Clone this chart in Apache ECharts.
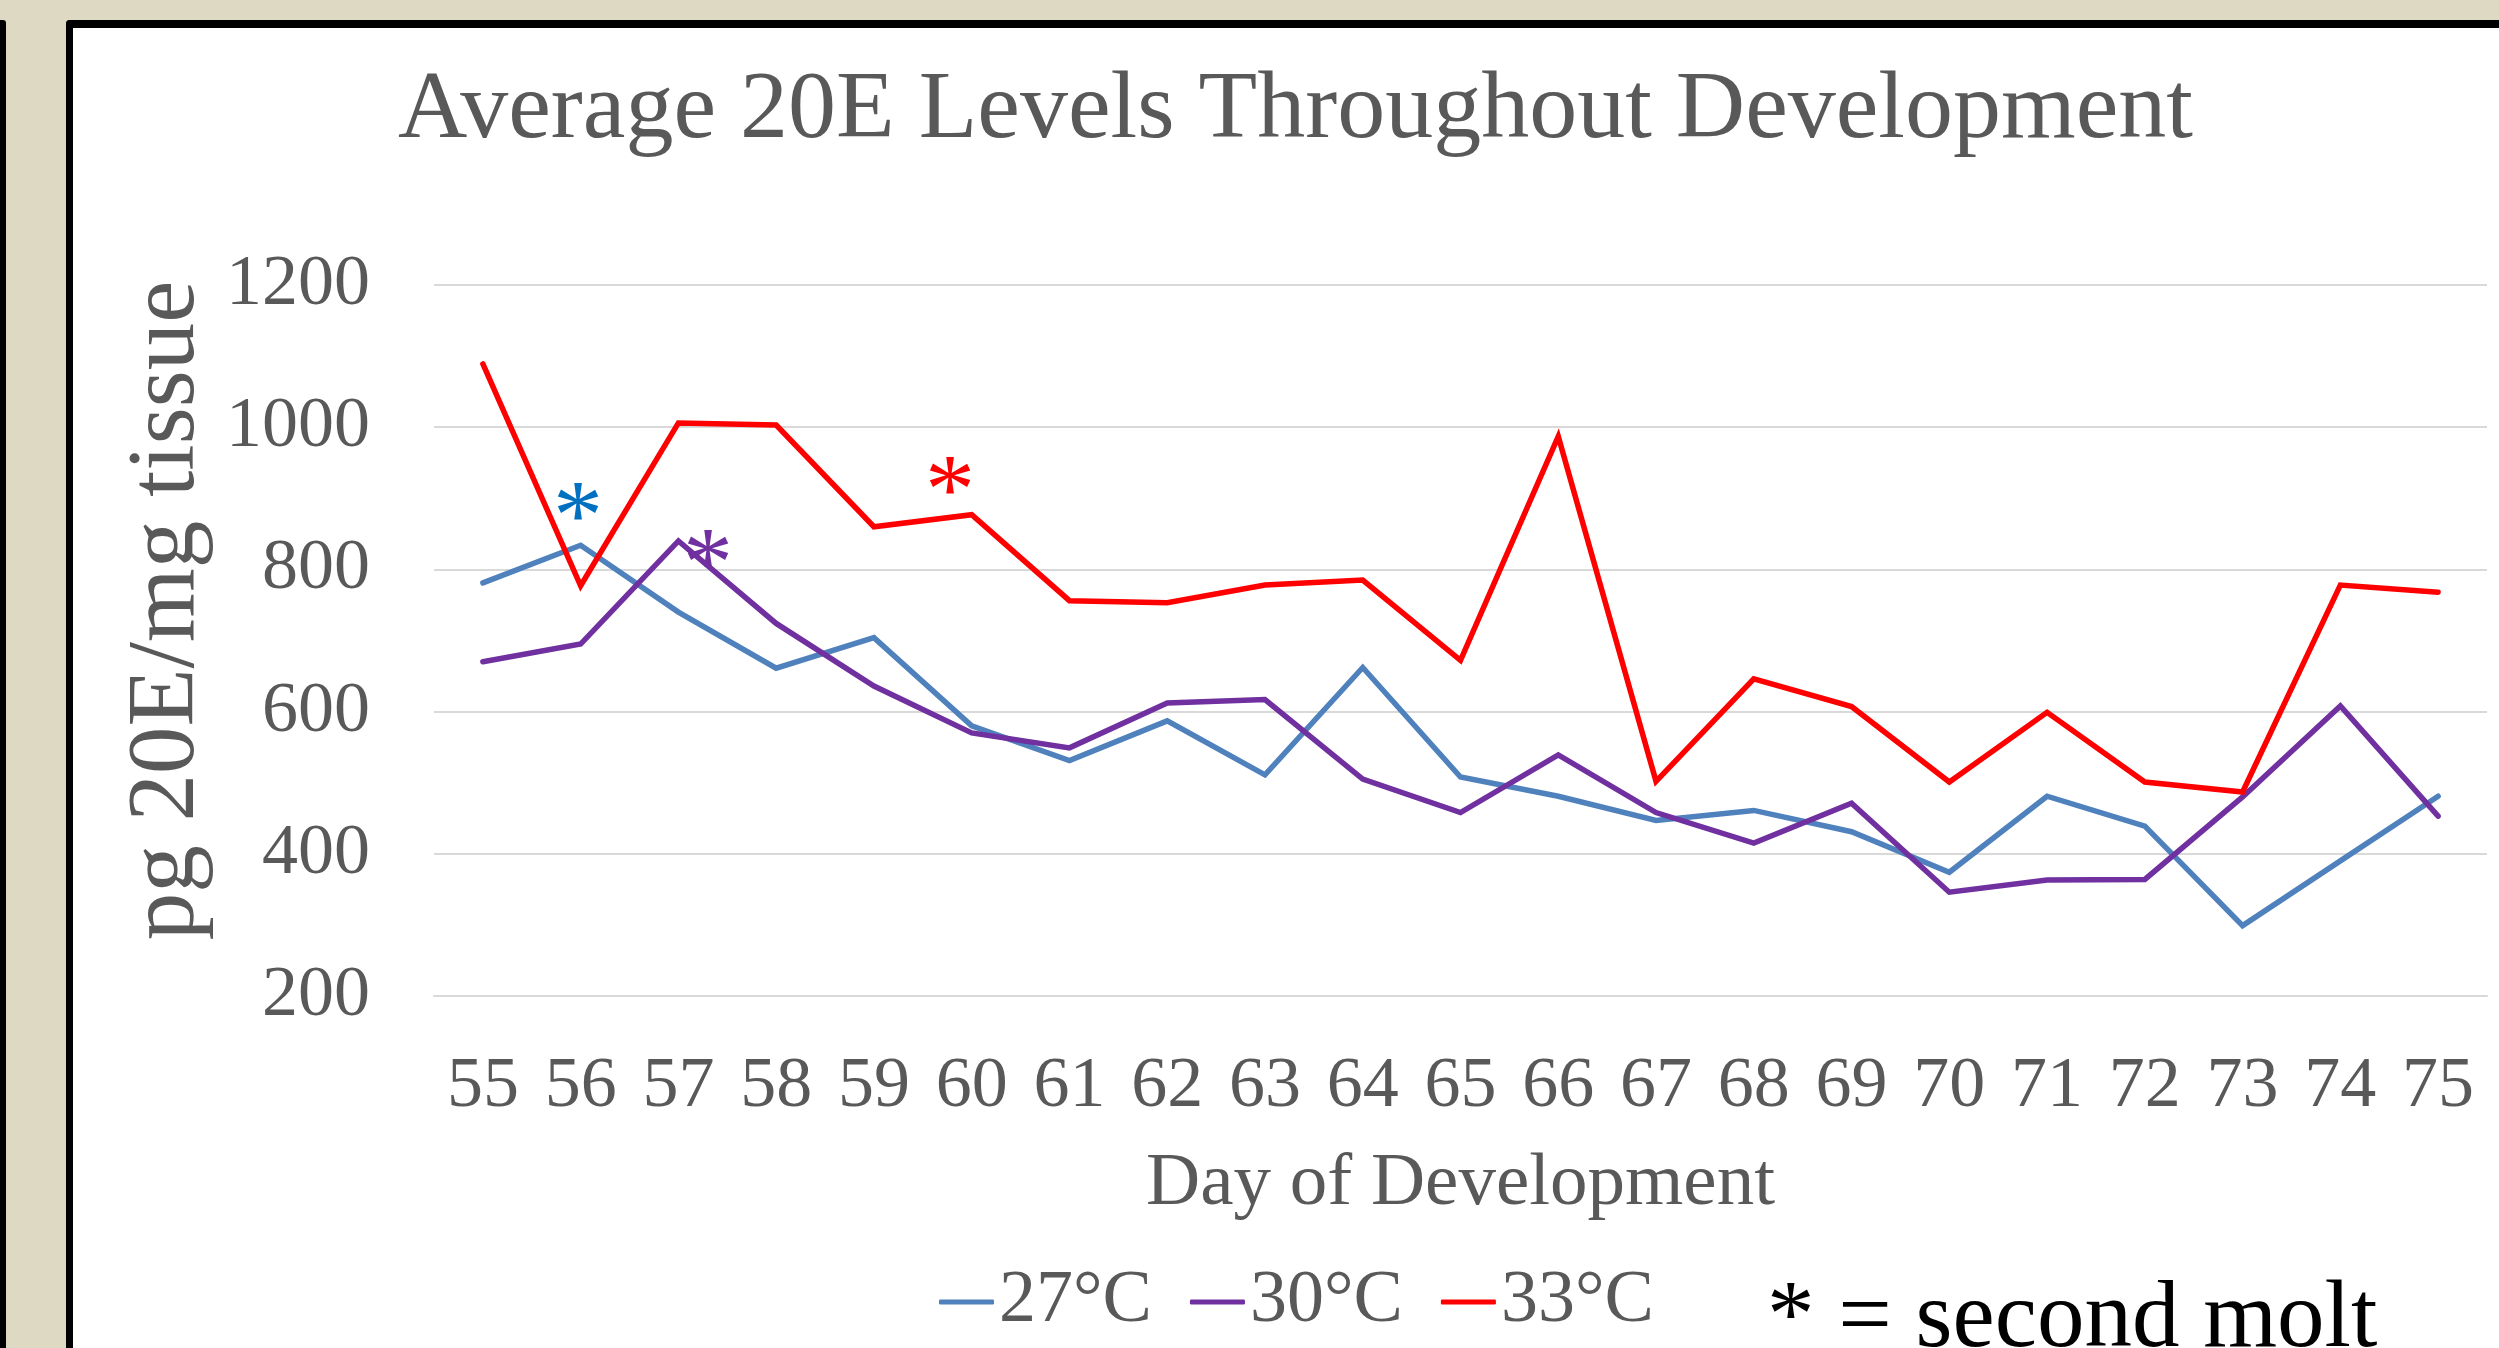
<!DOCTYPE html>
<html lang="en">
<head>
    <meta charset="UTF-8">
    <title>Average 20E Levels Throughout Development</title>
    <script src="https://cdn.jsdelivr.net/npm/echarts@6/dist/echarts.min.js"></script>
    <style>
        body { margin: 0; background: #DDD9C3; overflow: hidden; }
        #strip { position: absolute; left: 0; top: 20px; width: 6px; height: 1328px; background: #000; border-top-right-radius: 3px; }
        #frame { position: absolute; left: 66px; top: 20px; width: 2433px; height: 1328px; box-sizing: border-box;
                 border-left: 7px solid #000; border-top: 8px solid #000; border-top-left-radius: 4px; background: #fff; }
        #chart { position: absolute; left: 0; top: 0; width: 2499px; height: 1348px; }
    </style>
</head>
<body>
    <div id="strip"></div>
    <div id="frame"></div>
    <div id="chart"></div>

    <script>
        // days on the x axis
        var days = ["55", "56", "57", "58", "59", "60", "61", "62", "63", "64", "65",
                    "66", "67", "68", "69", "70", "71", "72", "73", "74", "75"]
        // pg 20E / mg tissue
        var t27 = [781, 834, 740, 661, 704, 580, 531, 587, 511, 662, 508,
                   481, 447, 461, 431, 374, 481, 439, 299, 390, 481]
        var t30 = [670, 695, 840, 724, 636, 570, 549, 612, 617, 505, 458,
                   539, 458, 415, 471, 346, 363, 364, 480, 608, 453]
        var t33 = [1089, 777, 1006, 1003, 860, 877, 756, 753, 778, 785, 672,
                   987, 502, 646, 607, 501, 599, 501, 487, 778, 768]
        var seriesNames = ["27°C", "30°C", "33°C"]
        var yTicks = [200, 1200, 200] // min, max, step

        var font = "Liberation Serif"
        var grey = "#595959"
        var colors = ["#4F81BD", "#7030A0", "#FF0000"]

        var chart = echarts.init(document.getElementById("chart"))

        function lineSeries(name, data, color) {
            return {
                name: name,
                type: "line",
                data: data,
                symbol: "none",
                color: color,
                lineStyle: { width: 5.5, color: color, cap: "round", join: "miter" },
                animation: false
            }
        }

        function note(text, x, y, color, size, align) {
            return {
                type: "text",
                x: x,
                y: y,
                style: {
                    text: text,
                    font: size + "px '" + font + "'",
                    fill: color,
                    textAlign: align,
                    textVerticalAlign: "middle"
                }
            }
        }

        var option = {
            animation: false,
            title: {
                text: "Average 20E Levels Throughout Development",
                left: 398,
                top: 64,
                padding: 0,
                textStyle: { fontFamily: font, fontSize: 96, fontWeight: "normal", color: grey }
            },
            legend: {
                data: seriesNames,
                left: 939,
                top: 1265,
                padding: 0,
                itemWidth: 55,
                itemHeight: 5,
                itemGap: 38,
                icon: "roundRect",
                textStyle: { fontFamily: font, fontSize: 74, color: grey }
            },
            grid: { left: 434, right: 12, top: 285, bottom: 352, containLabel: false },
            xAxis: {
                type: "category",
                data: days,
                boundaryGap: true,
                name: "Day of Development",
                nameLocation: "middle",
                nameGap: 151,
                nameTextStyle: { fontFamily: font, fontSize: 75, color: grey },
                axisLine: { show: true, lineStyle: { color: "#D9D9D9", width: 2 } },
                axisTick: { show: false },
                axisLabel: { fontFamily: font, fontSize: 72, color: grey, margin: 55, interval: 0 }
            },
            yAxis: {
                type: "value",
                min: yTicks[0],
                max: yTicks[1],
                interval: yTicks[2],
                name: "pg 20E/mg tissue",
                nameLocation: "middle",
                nameRotate: 90,
                nameGap: 213,
                nameTextStyle: { fontFamily: font, fontSize: 95, color: grey, padding: [0, 0, 0, 60] },
                axisLine: { show: false },
                axisTick: { show: false },
                splitLine: { lineStyle: { color: "#D9D9D9", width: 2 } },
                axisLabel: {
                    fontFamily: font, fontSize: 72, color: grey, margin: 64,
                    padding: [8, 0, 0, 0],
                    formatter: function (v) { return String(v) }
                }
            },
            series: [
                lineSeries(seriesNames[0], t27, colors[0]),
                lineSeries(seriesNames[1], t30, colors[1]),
                lineSeries(seriesNames[2], t33, colors[2])
            ],
            graphic: [
                // molt asterisks
                note("*", 578, 522, "#0070C0", 100, "center"),
                note("*", 708, 569, "#7030A0", 100, "center"),
                note("*", 950, 496, "#FF0000", 100, "center"),
                note("* = second molt", 1767, 1321, "#000000", 95, "left")
            ]
        }

        chart.setOption(option)
    </script>
</body>
</html>
